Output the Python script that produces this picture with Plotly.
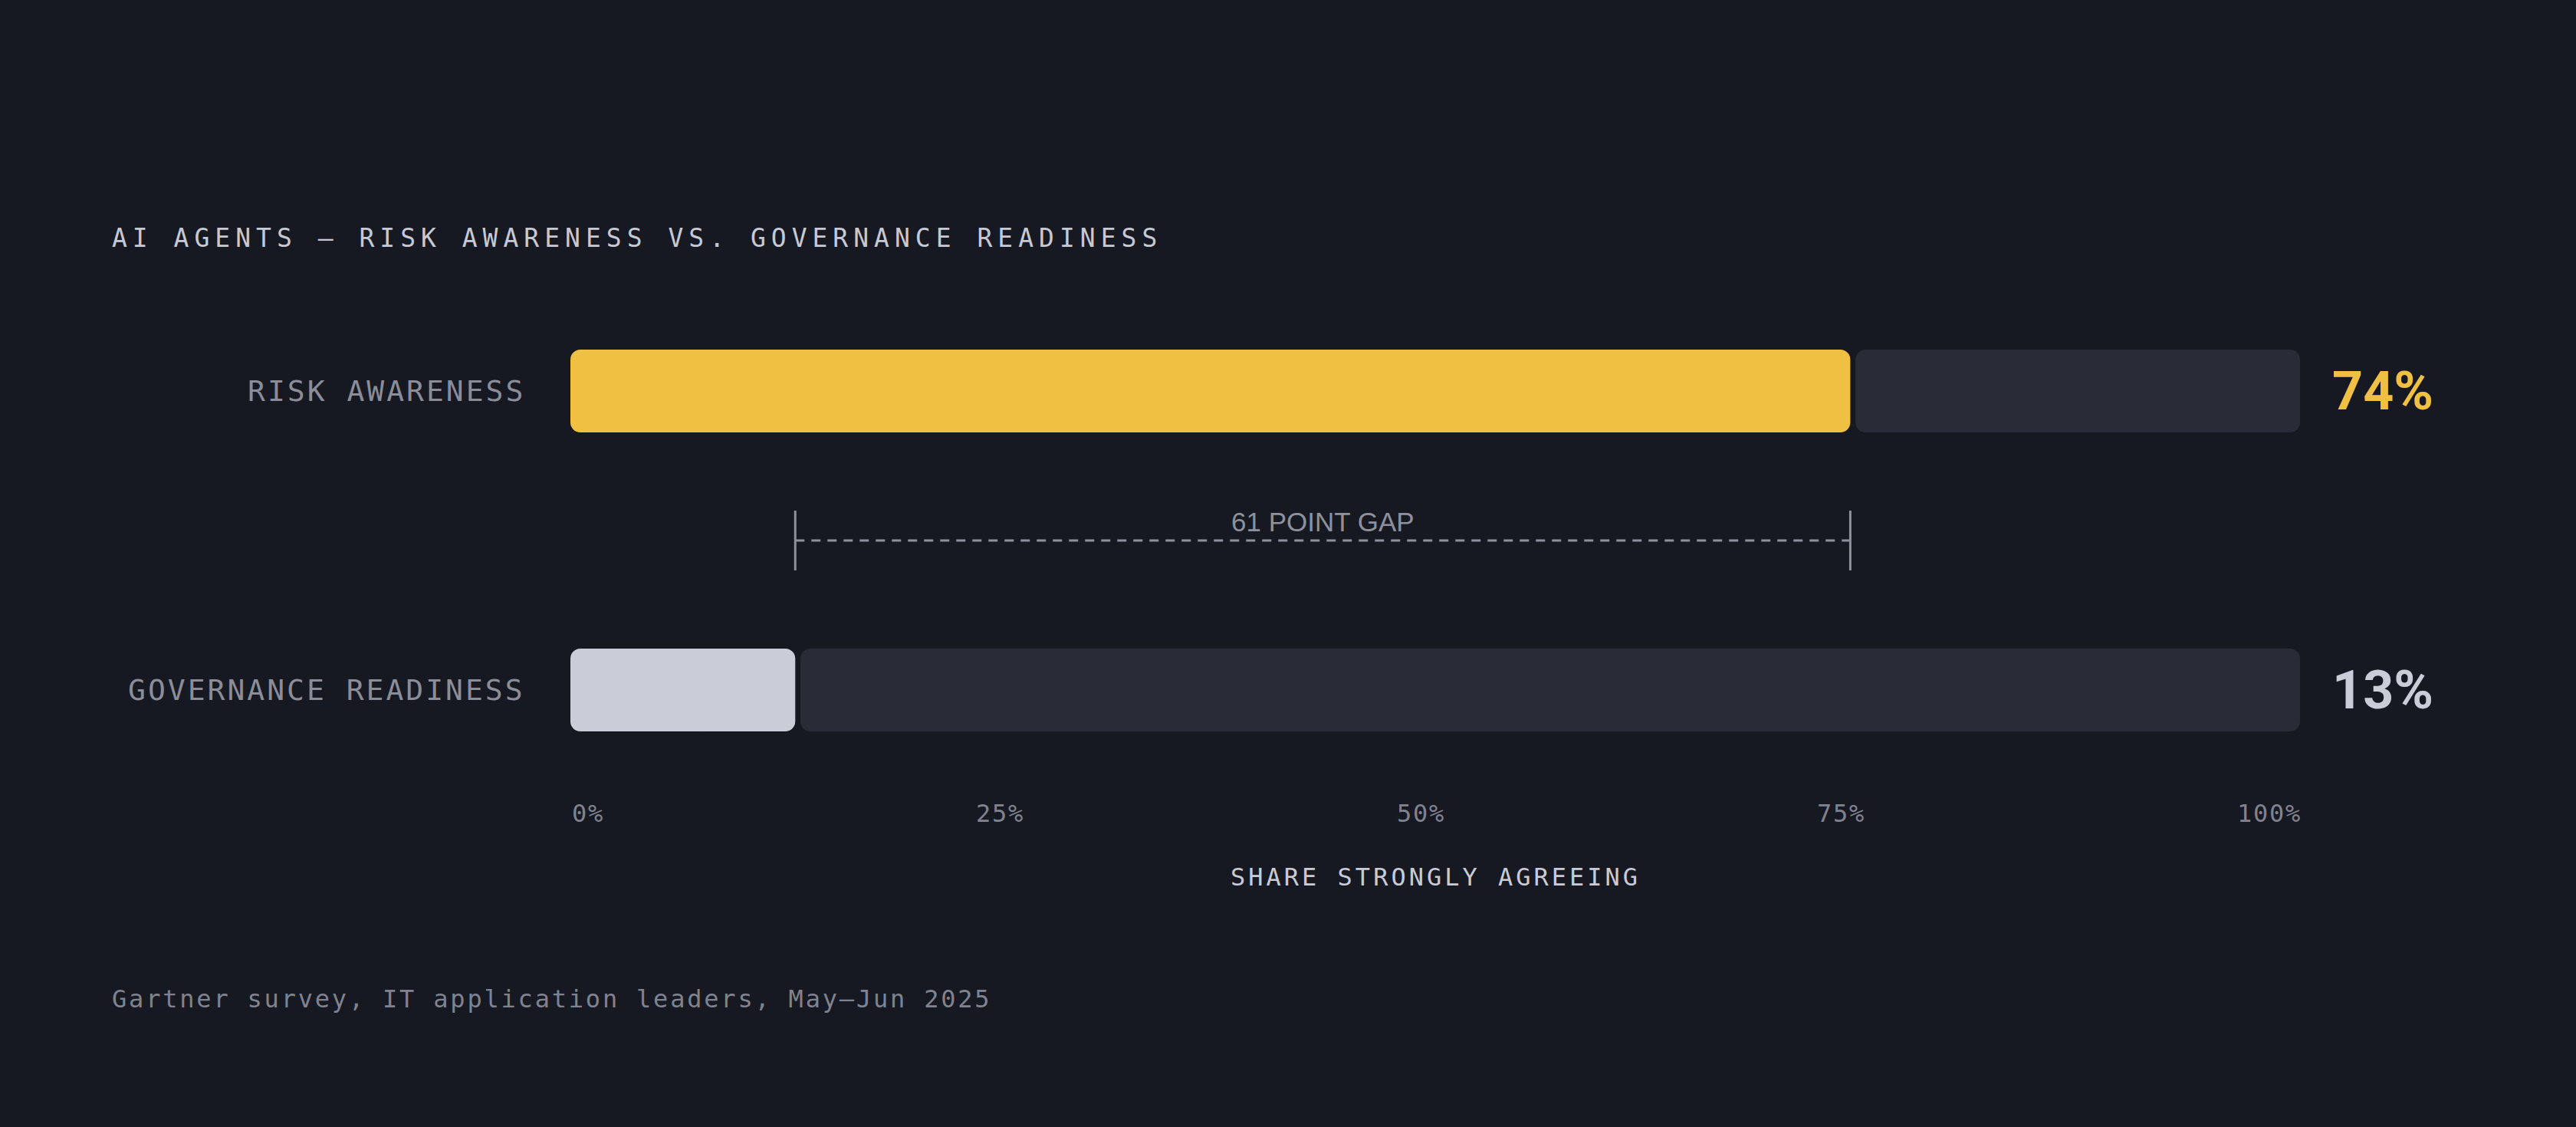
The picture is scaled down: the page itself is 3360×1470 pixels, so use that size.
import json
import plotly.graph_objects as go

# data
categories = ['RISK AWARENESS', 'GOVERNANCE READINESS']
values = [74, 13]
value_labels = ['74%', '13%']
tick_text = ['0%', '25%', '50%', '75%', '100%']

title_text = 'AI AGENTS — RISK AWARENESS VS. GOVERNANCE READINESS'
axis_title = 'SHARE STRONGLY AGREEING'
source_text = 'Gartner survey, IT application leaders, May–Jun 2025'

# colours
bg = '#171922'
track = '#292b37'
fill_colors = ['#efc042', '#c9cdd8']
mono = 'DejaVu Sans Mono'

W, H = 3360, 1470
x0_px, x1_px = 744, 3000
y_pos = list(range(len(categories)))
bar_w = 0.277
gap = 0.3

fig = go.Figure()

# remaining part of the track, from the value to 100
fig.add_trace(go.Bar(
    y=y_pos, x=[100 - v - gap for v in values], base=[v + gap for v in values],
    orientation='h', width=bar_w, marker=dict(color=track, line=dict(width=0)),
    hoverinfo='skip', showlegend=False))

# filled part, drawn as two halves so both ends get rounded corners
fig.add_trace(go.Bar(
    y=y_pos, x=[v * 0.6 for v in values], base=[v * 0.4 for v in values],
    orientation='h', width=bar_w, marker=dict(color=fill_colors, line=dict(width=0)),
    hoverinfo='skip', showlegend=False))
fig.add_trace(go.Bar(
    y=y_pos, x=[-v * 0.6 for v in values], base=[v * 0.6 for v in values],
    orientation='h', width=bar_w, marker=dict(color=fill_colors, line=dict(width=0)),
    hoverinfo='skip', showlegend=False))

annotations = []
spacing = []  # letter spacing (px) per annotation, applied after drawing


def add_note(sp, **kw):
    annotations.append(dict(showarrow=False, **kw))
    spacing.append(sp)


# title and source
add_note(7, x=144 / W, y=1 - 311 / H, xref='paper', yref='paper',
         text=title_text, xanchor='left', align='left', yanchor='middle',
         font=dict(family=mono, size=33, color='#c6c9d4'))
add_note(2.8, x=144 / W, y=1 - 1303 / H, xref='paper', yref='paper',
         text=source_text, xanchor='left', align='left', yanchor='middle',
         font=dict(family=mono, size=32, color='#80838f'))

# category labels and value labels
for i, (cat, lab) in enumerate(zip(categories, value_labels)):
    add_note(3, x=687 / W, y=i, xref='paper', yref='y', text=cat,
             xanchor='right', align='right', yanchor='middle',
             font=dict(family=mono, size=38, color='#8b8d99'))
    add_note(0, x=100, y=i, xref='x', yref='y', text='<b>' + lab + '</b>',
             xanchor='left', yanchor='middle', xshift=40,
             font=dict(family='Roboto', size=70, color=fill_colors[i]))

# tick labels spread across the track with equal gaps between them
char_w = 32 * 0.602 + 1.7
plot_w = x1_px - x0_px
widths = [len(t) * char_w for t in tick_text]
step = (plot_w - sum(widths)) / (len(tick_text) - 1)
left = 0
for tt, w in zip(tick_text, widths):
    add_note(1.7, x=left / plot_w * 100, y=1 - 1061 / H, xref='x', yref='paper', text=tt,
             xanchor='left', align='left', yanchor='middle',
             font=dict(family=mono, size=32, color='#80838f'))
    left += w + step

add_note(4, x=50, y=1 - 1144 / H, xref='x', yref='paper', text=axis_title,
         xanchor='center', yanchor='middle',
         font=dict(family=mono, size=32, color='#c8cbd6'))

# gap marker between the two values
lo, hi = min(values), max(values)
add_note(0, x=(lo + hi) / 2, y=0.438, xref='x', yref='y',
         text=f'{hi - lo} POINT GAP', xanchor='center', yanchor='middle',
         font=dict(family='Liberation Sans', size=35, color='#8e909c'))

shapes = [
    dict(type='line', xref='x', yref='y', x0=lo, x1=hi, y0=0.5, y1=0.5,
         line=dict(color='#8e909c', width=3, dash='12px,9px')),
    dict(type='line', xref='x', yref='y', x0=lo, x1=lo, y0=0.4, y1=0.6,
         line=dict(color='#8e909c', width=3)),
    dict(type='line', xref='x', yref='y', x0=hi, x1=hi, y0=0.4, y1=0.6,
         line=dict(color='#8e909c', width=3)),
]

fig.update_layout(
    width=W, height=H,
    paper_bgcolor=bg, plot_bgcolor=bg,
    margin=dict(l=0, r=0, t=0, b=0),
    barmode='overlay', barcornerradius=13,
    showlegend=False,
    xaxis=dict(domain=[x0_px / W, x1_px / W], range=[0, 100], visible=False, fixedrange=True),
    yaxis=dict(range=[(H - 510) / 390, -510 / 390], visible=False, fixedrange=True),
    annotations=annotations, shapes=shapes,
)

# no page margin, and the tracked-out lettering of the mono labels
post = """
document.body.style.margin = '0';
document.body.style.background = '%s';
var gd = document.getElementById('{plot_id}');
var sp = %s;
gd.querySelectorAll('g.annotation').forEach(function (g) {
  var i = +g.getAttribute('data-index');
  var t = g.querySelector('text.annotation-text');
  if (t && sp[i]) { t.style.letterSpacing = sp[i] + 'px'; }
});
""" % (bg, json.dumps(spacing))

fig.write_html('out.html', post_script=post, config={'displayModeBar': False})
